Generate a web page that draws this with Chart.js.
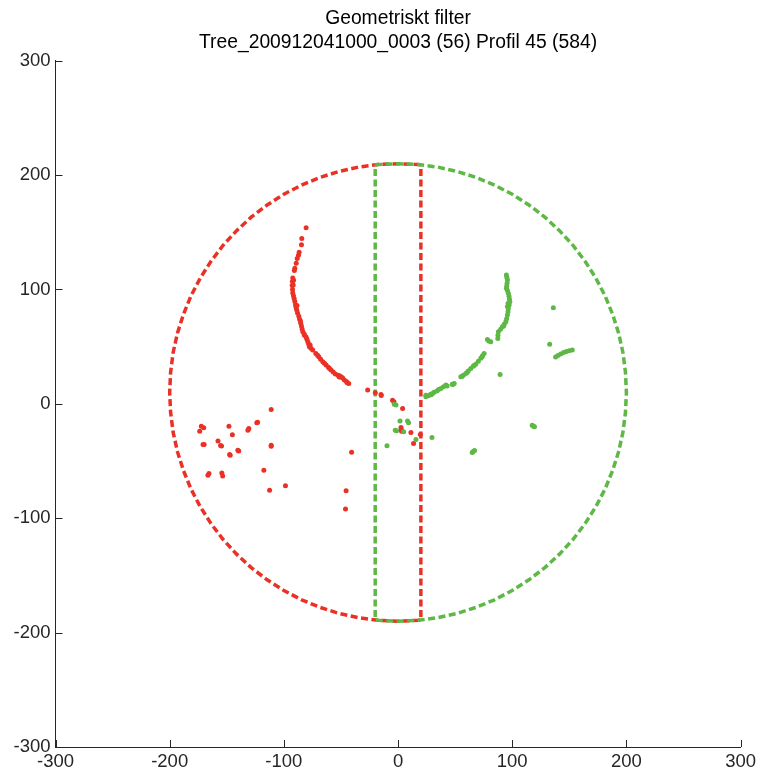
<!DOCTYPE html>
<html>
<head>
<meta charset="utf-8">
<title>Geometriskt filter</title>
<script src="https://cdn.jsdelivr.net/npm/chart.js@4.4.1/dist/chart.umd.min.js"></script>
<style>
  html, body { margin: 0; padding: 0; background: #ffffff; }
  #wrap { width: 760px; height: 771px; }
</style>
</head>
<body>
<div id="wrap"><canvas id="chart" width="760" height="771"></canvas></div>
<script>
// Title lines
const titleLines = ['Geometriskt filter', 'Tree_200912041000_0003 (56) Profil 45 (584)'];

// Axis ticks (same for both axes)
const tickValues = [-300, -200, -100, 0, 100, 200, 300];

// Filter outline, left part (red): circle arc + corridor edge at x = 20
const redOutline = [
  [20, 209], [17.4, 209.2], [0, 210], [-17.4, 209.2], [-34.7, 207.0], [-51.8, 203.2],
  [-68.4, 197.9], [-84.5, 191.3], [-100, 183.2], [-114.7, 173.8], [-128.6, 163.2],
  [-141.4, 151.4], [-153.2, 138.6], [-163.8, 124.7], [-173.2, 110.0], [-181.3, 94.5],
  [-187.9, 78.4], [-193.2, 61.8], [-197.0, 44.7], [-199.2, 27.4], [-200, 10],
  [-199.2, -7.4], [-197.0, -24.7], [-193.2, -41.8], [-187.9, -58.4], [-181.3, -74.5],
  [-173.2, -90.0], [-163.8, -104.7], [-153.2, -118.6], [-141.4, -131.4], [-128.6, -143.2],
  [-114.7, -153.8], [-100, -163.2], [-84.5, -171.3], [-68.4, -177.9], [-51.8, -183.2],
  [-34.7, -187.0], [-17.4, -189.2], [0, -190], [17.4, -189.2], [20, -189], [20, 209]
];

// Filter outline, right part (green): circle arc + corridor edge at x = -20
const greenOutline = [
  [-20, 209], [-17.4, 209.2], [0, 210], [17.4, 209.2], [34.7, 207.0], [51.8, 203.2],
  [68.4, 197.9], [84.5, 191.3], [100, 183.2], [114.7, 173.8], [128.6, 163.2],
  [141.4, 151.4], [153.2, 138.6], [163.8, 124.7], [173.2, 110.0], [181.3, 94.5],
  [187.9, 78.4], [193.2, 61.8], [197.0, 44.7], [199.2, 27.4], [200, 10],
  [199.2, -7.4], [197.0, -24.7], [193.2, -41.8], [187.9, -58.4], [181.3, -74.5],
  [173.2, -90.0], [163.8, -104.7], [153.2, -118.6], [141.4, -131.4], [128.6, -143.2],
  [114.7, -153.8], [100, -163.2], [84.5, -171.3], [68.4, -177.9], [51.8, -183.2],
  [34.7, -187.0], [17.4, -189.2], [0, -190], [-17.4, -189.2], [-20, -189], [-20, 209]
];

// Stem points, left side
const redStem = [
  [-80.5, 154], [-84.3, 144.5], [-84.6, 139], [-86.6, 132.5], [-87.2, 130], [-88.3, 127],
  [-89.2, 123], [-90.4, 118.5], [-90.8, 116.5], [-92.2, 110], [-91.5, 108], [-92.5, 107],
  [-91.8, 104], [-92.7, 103.5], [-92.4, 100], [-92.2, 97], [-91.6, 94.5], [-91, 92.2],
  [-90.4, 89.5], [-89.8, 86.5], [-88.5, 86], [-89.3, 84], [-88.7, 82], [-88, 79.5],
  [-86.9, 76.5], [-86.2, 74], [-85.5, 72.5], [-85.2, 70.5], [-84.6, 68], [-84, 65.5],
  [-83.4, 63], [-82.2, 61], [-82, 60], [-80.5, 58.5], [-79.8, 56.5], [-79, 54.2],
  [-78.2, 52], [-77, 51.5], [-77.6, 50], [-76.3, 48.5], [-74.7, 47], [-72, 44],
  [-70.5, 42.5], [-69.4, 41.2], [-67.8, 39], [-65.9, 36.8], [-64.5, 35.5], [-63, 34],
  [-61, 32], [-60, 31], [-58.7, 29.5], [-56.8, 27.8], [-54.9, 26], [-52.5, 25],
  [-51.5, 23.5], [-50.8, 24.3], [-49.5, 23.2], [-48.5, 22.5], [-47, 20.8], [-45.2, 19.5],
  [-44.5, 18.5], [-43.2, 17.8]
];

// Scattered points, left side
const redScatter = [
  [-26.6, 12], [-19.9, 9.6], [-14.9, 8.2], [-14.7, 7.4], [-4.8, 3.2], [-3.6, 1.8],
  [4, -4], [2.6, -20.6], [2.8, -22.5], [3.1, -24], [11.3, -25], [19.5, -26.8],
  [13.6, -34.6], [-40.7, -42.4], [-45.5, -76], [-46, -92], [-111.1, -4.9],
  [-172.3, -19.5], [-170.2, -21], [-173.7, -23.9], [-148.1, -19.5], [-145.1, -27.1],
  [-157.7, -32.4], [-155.4, -36.4], [-154.6, -36.8], [-170.8, -35.5], [-169.8, -35.5],
  [-130.7, -21.5], [-131.5, -23], [-123.7, -16.6], [-123, -16], [-111.1, -36.1],
  [-111.1, -37], [-140.3, -40.5], [-139.5, -41.3], [-147.5, -44.3], [-147, -45],
  [-165.6, -60.9], [-166.5, -62.4], [-154.3, -60.4], [-153.6, -63], [-117.5, -58],
  [-112.5, -75.5], [-98.6, -71.7]
];

// Stem points, right side
const greenStem = [
  [94.9, 112.6], [95.3, 110.5], [95.8, 108.2], [95.5, 105.5], [95.2, 103], [94.9, 101],
  [95.8, 99], [96.6, 96.6], [97.2, 94], [97.6, 91.5], [97.9, 89.2], [96.4, 88],
  [97.3, 86.5], [95.8, 85], [96.6, 83.4], [96.3, 80.5], [95.8, 77.6], [95.1, 74.5],
  [94.4, 71.8], [93, 69.5], [92.5, 68], [91.4, 67.3], [89.8, 65.3], [87.9, 63],
  [87.5, 60], [87.4, 57.2], [78.3, 56.3], [79.5, 55], [81.2, 54.2], [75.4, 44.1],
  [74, 42], [73.5, 41], [72.5, 39.8], [70.3, 37.2], [68.1, 34.7], [66.5, 33.5],
  [65.9, 32.8], [63.7, 31], [61.5, 28.8], [60.5, 27.5], [59.4, 26.6], [57.2, 25],
  [56, 24], [55, 23.6], [49.2, 17.8], [48, 17], [47.5, 17.2], [43, 15.5], [41.9, 16.4],
  [39.8, 15], [37.5, 13.5], [35.5, 12.5], [34, 11.3], [31.5, 10.2], [30.2, 9.1],
  [29, 8], [28.5, 8.5], [26.5, 7], [24.4, 6.1], [24.4, 7.6]
];

// Scattered points, right side
const greenScatter = [
  [136, 84], [89.4, 25.7], [132.8, 52.2], [138, 41], [140, 42.3], [142.5, 43.5],
  [145, 44.8], [147.5, 45.8], [150, 46.5], [152.6, 47], [117.5, -18.6], [118.6, -19.5],
  [119.5, -20], [65.8, -41.7], [67, -40.8], [65, -42.5], [-3.3, -0.3], [-1.8, -0.9],
  [1.7, -14.9], [8.3, -14.9], [9.2, -16.6], [-2.4, -23], [-1.3, -23.6], [4.9, -24.5],
  [15.7, -31.1], [29.7, -29.4], [-9.7, -36.7]
];

const RED = '#ea3126';
const GREEN = '#5db845';
const AXIS_COLOR = '#262626';
const FONT = '"Liberation Sans", Arial, Helvetica, sans-serif';

const toXY = pts => pts.map(p => ({ x: p[0], y: p[1] }));

// Short tick marks pointing into the plot area
const innerTicks = {
  id: 'innerTicks',
  afterDraw(chart) {
    const { ctx, chartArea } = chart;
    const xs = chart.scales.x, ys = chart.scales.y;
    const len = 7;
    ctx.save();
    ctx.strokeStyle = AXIS_COLOR;
    ctx.lineWidth = 1;
    xs.ticks.forEach(t => {
      const px = Math.round(xs.getPixelForValue(t.value)) + 0.5;
      ctx.beginPath();
      ctx.moveTo(px, chartArea.bottom);
      ctx.lineTo(px, chartArea.bottom - len);
      ctx.stroke();
    });
    ys.ticks.forEach(t => {
      const py = Math.round(ys.getPixelForValue(t.value)) + 0.5;
      ctx.beginPath();
      ctx.moveTo(chartArea.left, py);
      ctx.lineTo(chartArea.left + len, py);
      ctx.stroke();
    });
    ctx.restore();
  }
};

// Centre the title over the plot area rather than the whole canvas
const titleOverPlot = {
  id: 'titleOverPlot',
  afterLayout(chart) {
    const tb = chart.titleBlock;
    if (tb) {
      tb.left = chart.chartArea.left;
      tb.right = chart.chartArea.right;
    }
  }
};

const pointStyle = color => ({
  backgroundColor: color,
  borderColor: color,
  borderWidth: 0,
  pointRadius: 2.5,
  pointHoverRadius: 2.5,
  showLine: false
});

const outlineStyle = color => ({
  borderColor: color,
  backgroundColor: color,
  borderWidth: 3.5,
  borderDash: [7, 3.5],
  borderCapStyle: 'butt',
  borderJoinStyle: 'miter',
  pointRadius: 0,
  showLine: true,
  tension: 0,
  fill: false
});

new Chart(document.getElementById('chart'), {
  type: 'scatter',
  data: {
    datasets: [
      Object.assign({ label: 'Träd höger', data: toXY(greenStem), order: 0 }, pointStyle(GREEN)),
      Object.assign({ label: 'Övrigt höger', data: toXY(greenScatter), order: 0 }, pointStyle(GREEN)),
      Object.assign({ label: 'Träd vänster', data: toXY(redStem), order: 0 }, pointStyle(RED)),
      Object.assign({ label: 'Övrigt vänster', data: toXY(redScatter), order: 0 }, pointStyle(RED)),
      Object.assign({ label: 'Filter höger', data: toXY(greenOutline), order: 1 }, outlineStyle(GREEN)),
      Object.assign({ label: 'Filter vänster', data: toXY(redOutline), order: 2 }, outlineStyle(RED))
    ]
  },
  options: {
    responsive: false,
    animation: false,
    events: [],
    layout: { padding: { top: 0, right: 18, bottom: 0, left: 0 } },
    plugins: {
      legend: { display: false },
      tooltip: { enabled: false },
      title: {
        display: true,
        text: titleLines,
        color: '#000000',
        font: { family: FONT, size: 19.3, weight: 'normal', lineHeight: 24 / 19.3 },
        padding: { top: 7, bottom: 5.7 }
      }
    },
    scales: {
      x: {
        type: 'linear',
        position: 'bottom',
        min: -300,
        max: 300,
        afterBuildTicks: s => { s.ticks = tickValues.map(v => ({ value: v })); },
        afterFit: s => { s.height = 24; },
        ticks: { color: AXIS_COLOR, font: { family: FONT, size: 18.5 }, padding: 4, maxRotation: 0, autoSkip: false },
        grid: { display: false, drawTicks: false },
        border: { display: true, color: AXIS_COLOR, width: 1 }
      },
      y: {
        type: 'linear',
        position: 'left',
        min: -300,
        max: 300,
        afterBuildTicks: s => { s.ticks = tickValues.map(v => ({ value: v })); },
        afterFit: s => { s.width = 55.5; },
        ticks: { color: AXIS_COLOR, font: { family: FONT, size: 18.5 }, padding: 5, autoSkip: false },
        grid: { display: false, drawTicks: false },
        border: { display: true, color: AXIS_COLOR, width: 1 }
      }
    }
  },
  plugins: [innerTicks, titleOverPlot]
});
</script>
</body>
</html>
